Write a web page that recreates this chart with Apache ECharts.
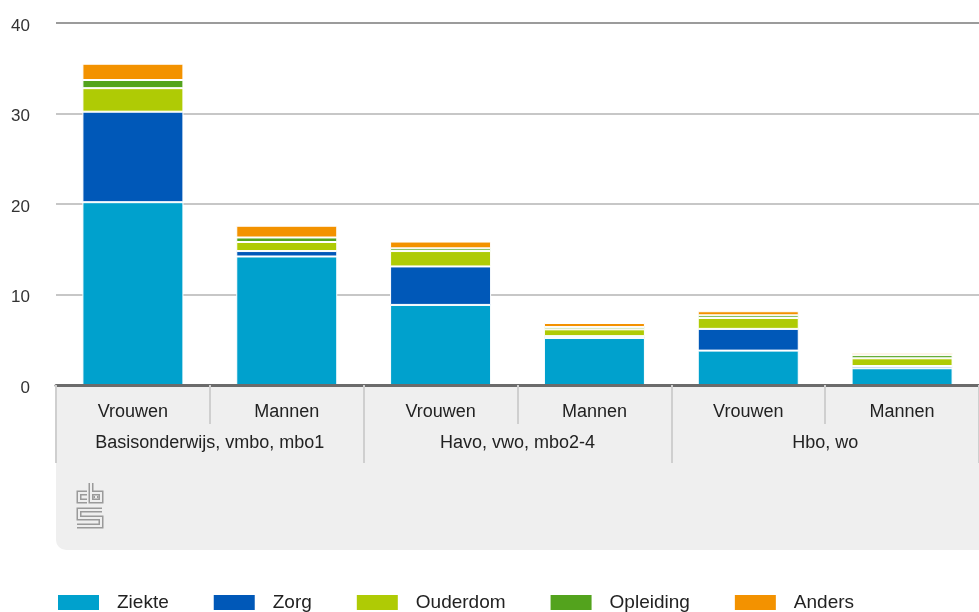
<!DOCTYPE html>
<html>
<head>
<meta charset="utf-8">
<script src="https://cdn.jsdelivr.net/npm/echarts@6/dist/echarts.min.js"></script>
<style>
html,body{margin:0;padding:0;background:#fff;}
#chart{width:979px;height:612px;}
</style>
</head>
<body>
<div id="chart"></div>
<script>
const categories = ['Vrouwen', 'Mannen', 'Vrouwen', 'Mannen', 'Vrouwen', 'Mannen'];
const groups = ['Basisonderwijs, vmbo, mbo1', 'Havo, vwo, mbo2-4', 'Hbo, wo'];
const yTicks = [0, 10, 20, 30, 40];
const ziekte    = [20.2, 14.2, 8.85, 5.2, 3.8, 1.85];
const zorg      = [10.0, 0.6, 4.25, 0.2, 2.4, 0.25];
const ouderdom  = [2.6, 1.0, 1.7, 0.75, 1.2, 0.85];
const opleiding = [0.9, 0.5, 0.3, 0.25, 0.3, 0.35];
const anders    = [1.8, 1.3, 0.75, 0.45, 0.45, 0.25];

const FONT = '"Liberation Sans", Arial, sans-serif';
const seriesDefs = [
  ['Ziekte', ziekte, '#00a1cd'],
  ['Zorg', zorg, '#0058b8'],
  ['Ouderdom', ouderdom, '#afcb05'],
  ['Opleiding', opleiding, '#53a31d'],
  ['Anders', anders, '#f39200']
];

const chart = echarts.init(document.getElementById('chart'), null, {renderer: 'canvas'});

const logoStroke = (pts) => ([
  {type: 'polyline', z: -5, shape: {points: pts}, style: {stroke: '#9a9a9a', lineWidth: 5, fill: null}},
  {type: 'polyline', z: -4, shape: {points: pts}, style: {stroke: '#efefef', lineWidth: 2, fill: null}}
]);

chart.setOption({
  animation: false,
  textStyle: {fontFamily: FONT},
  grid: {left: 56, right: 0, top: 23, bottom: 227, containLabel: false},
  legend: {
    left: 56, top: 593, padding: 0,
    itemWidth: 43, itemHeight: 17, itemGap: 43,
    icon: 'rect',
    textStyle: {fontSize: 19, color: '#222', fontFamily: FONT, padding: [0, 0, 0, 12]},
    data: seriesDefs.map(d => d[0])
  },
  xAxis: [
    {
      type: 'category', data: categories, position: 'bottom',
      axisLine: {show: true, lineStyle: {color: '#6b6b6b', width: 3}},
      axisTick: {show: true, length: 39, lineStyle: {color: '#cfcfcf', width: 2}},
      axisLabel: {margin: 18, fontSize: 18, color: '#222', fontFamily: FONT},
      z: 3
    },
    {
      type: 'category', data: groups, position: 'bottom',
      axisLine: {show: false},
      axisTick: {show: true, length: 78, lineStyle: {color: '#cfcfcf', width: 2}},
      axisLabel: {margin: 49, fontSize: 18, color: '#222', fontFamily: FONT},
      z: 3
    }
  ],
  yAxis: {
    type: 'value', min: yTicks[0], max: yTicks[yTicks.length - 1], interval: 10,
    axisLine: {show: false}, axisTick: {show: false},
    axisLabel: {margin: 26, fontSize: 17, color: '#333', fontFamily: FONT, verticalAlign: 'top', lineHeight: 6},
    splitLine: {lineStyle: {color: ['#b4b4b4', '#b4b4b4', '#b4b4b4', '#b4b4b4', '#7a7a7a'], width: 1.5}}
  },
  series: seriesDefs.map(([name, vals, color]) => ({
    name, type: 'bar', stack: 'total', data: vals, barWidth: 101,
    itemStyle: {color, borderColor: '#ffffff', borderWidth: 1},
    emphasis: {disabled: true}
  })),
  graphic: [
    {type: 'rect', z: -10, shape: {x: 56, y: 387, width: 940, height: 163, r: [0, 0, 0, 10]}, style: {fill: '#efefef'}},
    ...logoStroke([[87, 493], [79, 493], [79, 501], [87, 501]]),
    ...logoStroke([[91, 483], [91, 501], [101, 501], [101, 493], [91, 493]]),
    ...logoStroke([[96, 496], [96, 498]]),
    ...logoStroke([[102, 510], [79, 510], [79, 518], [101, 518], [101, 526], [77, 526]])
  ]
});
</script>
</body>
</html>
